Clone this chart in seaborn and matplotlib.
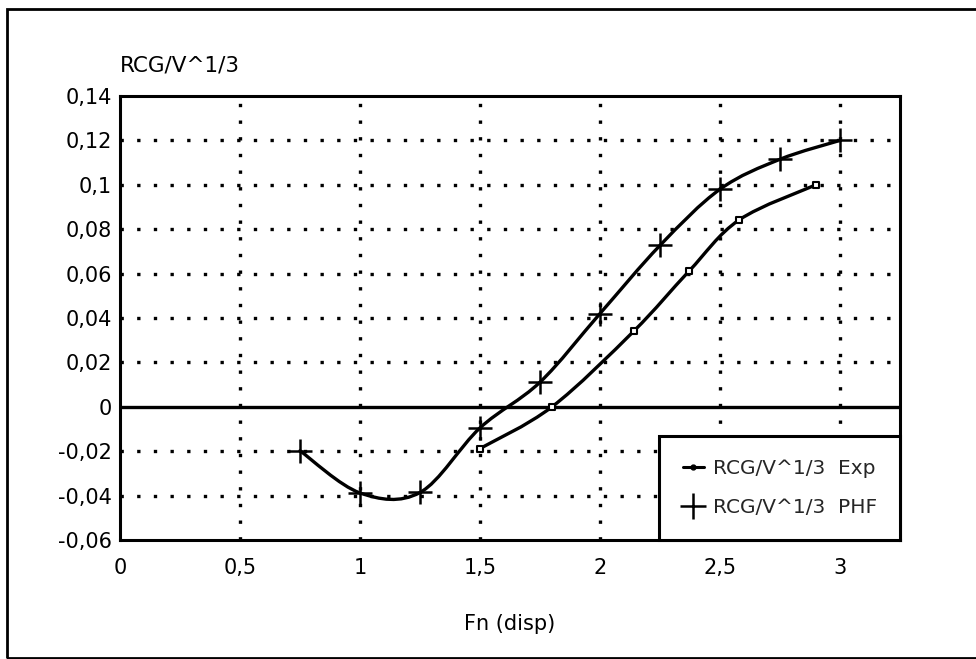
import numpy as np
import pandas as pd
import matplotlib
matplotlib.use("Agg")
import matplotlib.pyplot as plt
from matplotlib.path import Path
from matplotlib.patches import PathPatch, Rectangle
from matplotlib.lines import Line2D
from matplotlib.ticker import FuncFormatter
import seaborn as sns

# Experimental series
exp_fn = [1.5, 1.8, 2.14, 2.37, 2.58, 2.9]
exp_rcg = [-0.0188, 0.0, 0.034, 0.061, 0.0842, 0.100]

# PHF series
phf_fn = [0.75, 1.0, 1.25, 1.5, 1.75, 2.0, 2.25, 2.5, 2.75, 3.0]
phf_rcg = [-0.0198, -0.0388, -0.0386, -0.0095, 0.0111, 0.042, 0.0727, 0.098, 0.1115, 0.120]

x_ticks = [0, 0.5, 1, 1.5, 2, 2.5, 3]
y_ticks = [-0.06, -0.04, -0.02, 0, 0.02, 0.04, 0.06, 0.08, 0.1, 0.12, 0.14]

label_exp = "RCG/V^1/3  Exp"
label_phf = "RCG/V^1/3  PHF"

sns.set_theme(style="white")
plt.rcParams["font.family"] = ["DejaVu Sans"]
plt.rcParams["font.size"] = 15


def smooth_path(xs, ys):
    """Catmull-Rom style smoothing expressed as cubic Bezier segments."""
    pts = np.column_stack([xs, ys]).astype(float)
    n = len(pts)
    verts = [pts[0]]
    codes = [Path.MOVETO]
    for i in range(n - 1):
        p0 = pts[i - 1] if i > 0 else pts[i]
        p1 = pts[i]
        p2 = pts[i + 1]
        p3 = pts[i + 2] if i + 2 < n else pts[i + 1]
        c1 = p1 + (p2 - p0) / 6.0
        c2 = p2 - (p3 - p1) / 6.0
        verts += [c1, c2, p2]
        codes += [Path.CURVE4] * 3
    return Path(verts, codes)


fig = plt.figure(figsize=(9.76, 6.59), dpi=100)
ax = fig.add_axes([120 / 976, 1 - 540 / 659, 780 / 976, 444 / 659])

ax.set_xlim(0, 3.25)
ax.set_ylim(-0.06, 0.14)

# dotted grid
for xv in x_ticks[1:]:
    ax.axvline(xv, color="black", lw=2.4, ls=(0, (1, 4)), zorder=1)
for yv in y_ticks[1:-1]:
    if yv != 0:
        ax.axhline(yv, color="black", lw=2.4, ls=(0, (1, 4)), zorder=1)
ax.axhline(0, color="black", lw=2.4, zorder=2)

# smoothed curves
for xs, ys in [(exp_fn, exp_rcg), (phf_fn, phf_rcg)]:
    ax.add_patch(PathPatch(smooth_path(xs, ys), fill=False, edgecolor="black",
                           lw=2.4, zorder=3, capstyle="round", joinstyle="round"))

df_exp = pd.DataFrame({"Fn": exp_fn, "RCG": exp_rcg})
df_phf = pd.DataFrame({"Fn": phf_fn, "RCG": phf_rcg})

sns.scatterplot(data=df_exp, x="Fn", y="RCG", ax=ax, marker="s", s=18,
                facecolor="white", edgecolor="black", linewidth=1.5, zorder=4)
sns.scatterplot(data=df_phf, x="Fn", y="RCG", ax=ax, marker="+", s=320,
                color="black", linewidth=1.8, zorder=4)

ax.set_xticks(x_ticks)
ax.set_yticks(y_ticks)
fmt = FuncFormatter(lambda v, p: ("%g" % round(v, 2)).replace(".", ","))
ax.xaxis.set_major_formatter(fmt)
ax.yaxis.set_major_formatter(fmt)
ax.tick_params(axis="both", length=0, labelsize=15, colors="black")
ax.tick_params(axis="y", pad=6)
ax.tick_params(axis="x", pad=13)

for sp in ax.spines.values():
    sp.set_visible(True)
    sp.set_color("black")
    sp.set_linewidth(2.2)

ax.set_xlabel("Fn (disp)", fontsize=15, labelpad=26, color="black")
ax.set_ylabel("")
ax.text(0.0, 1.047, "RCG/V^1/3", transform=ax.transAxes, fontsize=15.5,
        ha="left", va="bottom", color="black")

handles = [
    Line2D([], [], color="black", lw=2.2, marker="o", markersize=3.5),
    Line2D([], [], color="black", lw=0, marker="+", markersize=19, markeredgewidth=1.8),
]
leg = ax.legend(handles, [label_exp, label_phf], loc="lower right",
                bbox_to_anchor=(1.0, 0.0), frameon=True, fancybox=False,
                fontsize=14.5, handlelength=1.05, handletextpad=0.45,
                borderpad=1.15, labelspacing=1.0, borderaxespad=0.0)
leg.get_frame().set_edgecolor("black")
leg.get_frame().set_linewidth(2.2)
leg.get_frame().set_facecolor("white")
leg.get_frame().set_alpha(1.0)
leg.set_zorder(5)

# outer frame around the chart (its right edge runs past the canvas)
fig.patches.append(Rectangle((7 / 976, 1 / 659), 990 / 976, 649 / 659,
                             transform=fig.transFigure, fill=False,
                             edgecolor="black", lw=2.0, clip_on=False))

fig.savefig("out.png", dpi=100, facecolor="white")
